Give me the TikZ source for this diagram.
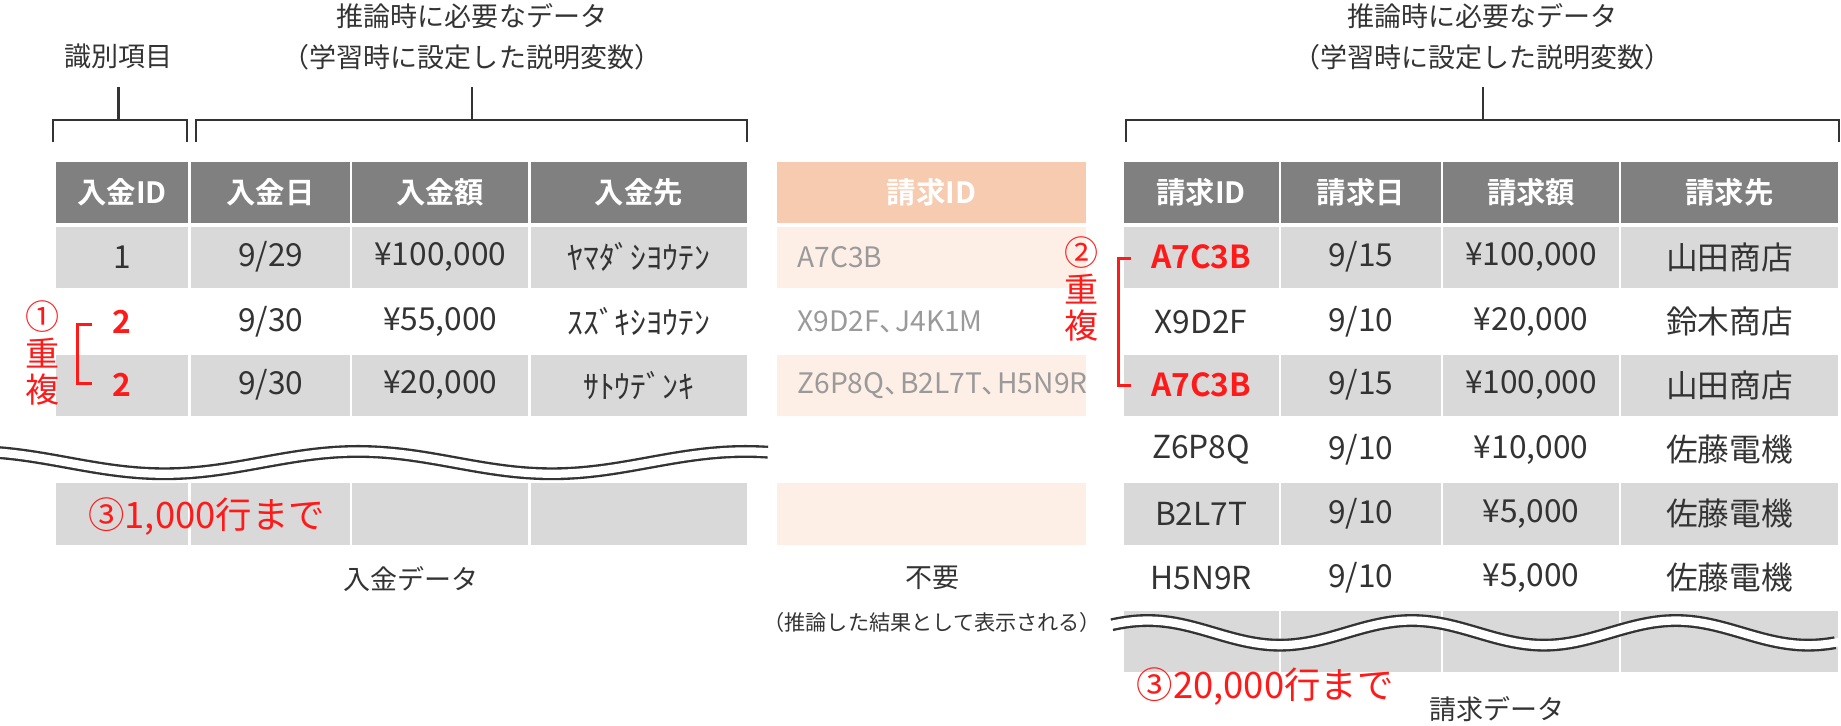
\documentclass[tikz,border=0pt]{standalone}
\usepackage{fontspec}
\setmainfont{Noto Sans CJK JP}
\newfontfamily\jpb{Noto Sans CJK JP Bold}
\definecolor{hdr}{HTML}{808080}
\definecolor{cg}{HTML}{D9D9D9}
\definecolor{ph}{HTML}{F7CBB0}
\definecolor{pc}{HTML}{FDEEE6}
\definecolor{tx}{HTML}{333333}
\definecolor{gt}{HTML}{9A9A9A}
\definecolor{rd}{HTML}{FF1A1A}
\newcommand\cel[7]{\node[#1, minimum width=#5pt, minimum height=#6pt, anchor=north west] (#2) at (#3,#4) {#7};}
\newcommand\tc{、\kern-0.45em}
\tikzset{
 base/.style={inner sep=0pt, outer sep=0pt, text=tx, font=\fontsize{27}{30}\selectfont},
 hd/.style={base, fill=hdr, text=white, font=\jpb\fontsize{25}{28}\selectfont},
 gr/.style={base, fill=cg},
 wh/.style={base},
 phd/.style={base, fill=ph, text=white, font=\jpb\fontsize{25}{28}\selectfont},
 pcl/.style={base, fill=pc},
 mid/.style={inner sep=0pt, text=gt, anchor=west, font=\fontsize{24}{28}\selectfont},
 lab/.style={inner sep=0pt, text=tx, font=\fontsize{23}{26}\selectfont},
 red/.style={inner sep=0pt, text=rd, font=\fontsize{31}{34}\selectfont},
 rid/.style={text=rd, font=\jpb\fontsize{27}{30}\selectfont},
 brk/.style={draw=tx, line width=2pt},
 rbrk/.style={draw=rd, line width=2.5pt},
 wob/.style={line width=11pt, draw=tx},
 wow/.style={line width=7pt, draw=white},
}
\begin{document}
\begin{tikzpicture}[x=1pt,y=-1pt]
\useasboundingbox[fill=white] (0,0) rectangle (1568,618);
% ---------- left table
\cel{hd}{lh1}{48}{138}{112}{52}{入金ID}
\cel{hd}{lh2}{163}{138}{135}{52}{入金日}
\cel{hd}{lh3}{300}{138}{150}{52}{入金額}
\cel{hd}{lh4}{452}{138}{184}{52}{入金先}
\cel{gr}{la1}{48}{193}{112}{52}{1}
\cel{gr}{la2}{163}{193}{135}{52}{9/29}
\cel{gr}{la3}{300}{193}{150}{52}{¥100,000}
\cel{gr}{la4}{452}{193}{184}{52}{ﾔﾏﾀﾞｼﾖｳﾃﾝ}
\cel{wh,rid}{lb1}{48}{248}{112}{52}{2}
\cel{wh}{lb2}{163}{248}{135}{52}{9/30}
\cel{wh}{lb3}{300}{248}{150}{52}{¥55,000}
\cel{wh}{lb4}{452}{248}{184}{52}{ｽｽﾞｷｼﾖｳﾃﾝ}
\cel{gr,rid}{lc1}{48}{302}{112}{52}{2}
\cel{gr}{lc2}{163}{302}{135}{52}{9/30}
\cel{gr}{lc3}{300}{302}{150}{52}{¥20,000}
\cel{gr}{lc4}{452}{302}{184}{52}{ｻﾄｳﾃﾞﾝｷ}
\cel{gr}{ld1}{48}{411}{112}{53}{}
\cel{gr}{ld2}{163}{411}{135}{53}{}
\cel{gr}{ld3}{300}{411}{150}{53}{}
\cel{gr}{ld4}{452}{411}{184}{53}{}
\draw[wob] plot[domain=-2:654, samples=120, smooth] (\x, {394+9.5*cos(1.0909*(\x-140))});
\draw[wow] plot[domain=-6:658, samples=120, smooth] (\x, {394+9.5*cos(1.0909*(\x-140))});
\node[red, anchor=west] (l3) at (75,440) {③1,000行まで};
\node[lab] (lname) at (350,493) {入金データ};
% left annotation
\node[red, font=\fontsize{29}{32}\selectfont] (c1) at (36,270) {①};
\node[red, font=\fontsize{29}{32}\selectfont] (c1a) at (36,301) {重};
\node[red, font=\fontsize{29}{32}\selectfont] (c1b) at (36,332) {複};
\draw[rbrk] (78,276) -- (66,276) -- (66,327) -- (78,327);
% left brackets
\node[lab] (t1) at (101,48) {識別項目};
\coordinate (s1) at (101,74);
\draw[brk] (45,121) -- (45,102) -- (159,102) -- (159,121);
\draw[brk] (s1) -- (101,102);
\node[lab] (t2a) at (402,14) {推論時に必要なデータ};
\node[lab] (t2b) at (402,49) {（学習時に設定した説明変数）};
\coordinate (s2) at (402,74);
\draw[brk] (167,121) -- (167,102) -- (636,102) -- (636,121);
\draw[brk] (s2) -- (402,102);
% ---------- middle
\cel{phd}{mh}{662}{138}{263}{52}{請求ID}
\cel{pcl}{m1}{662}{193}{263}{52}{}
\cel{pcl}{m3}{662}{302}{263}{52}{}
\cel{pcl}{m5}{662}{411}{263}{53}{}
\node[mid] (mt1) at (679,219) {A7C3B};
\node[mid] (mt2) at (679,274) {X9D2F\tc J4K1M};
\node[mid] (mt3) at (679,328) {Z6P8Q\tc B2L7T\tc H5N9R};
\node[lab] (mname) at (794,492) {不要};
\node[lab, font=\fontsize{18}{20}\selectfont] (mnote) at (794,530) {（推論した結果として表示される）};
% ---------- right table
\cel{hd}{rh1}{957}{138}{132}{52}{請求ID}
\cel{hd}{rh2}{1091}{138}{136}{52}{請求日}
\cel{hd}{rh3}{1229}{138}{150}{52}{請求額}
\cel{hd}{rh4}{1381}{138}{184}{52}{請求先}
\cel{gr,rid}{ra1}{957}{193}{132}{52}{A7C3B}
\cel{gr}{ra2}{1091}{193}{136}{52}{9/15}
\cel{gr}{ra3}{1229}{193}{150}{52}{¥100,000}
\cel{gr}{ra4}{1381}{193}{184}{52}{山田商店}
\cel{wh}{rb1}{957}{248}{132}{52}{X9D2F}
\cel{wh}{rb2}{1091}{248}{136}{52}{9/10}
\cel{wh}{rb3}{1229}{248}{150}{52}{¥20,000}
\cel{wh}{rb4}{1381}{248}{184}{52}{鈴木商店}
\cel{gr,rid}{rc1}{957}{302}{132}{52}{A7C3B}
\cel{gr}{rc2}{1091}{302}{136}{52}{9/15}
\cel{gr}{rc3}{1229}{302}{150}{52}{¥100,000}
\cel{gr}{rc4}{1381}{302}{184}{52}{山田商店}
\cel{wh}{rd1}{957}{357}{132}{52}{Z6P8Q}
\cel{wh}{rd2}{1091}{357}{136}{52}{9/10}
\cel{wh}{rd3}{1229}{357}{150}{52}{¥10,000}
\cel{wh}{rd4}{1381}{357}{184}{52}{佐藤電機}
\cel{gr}{re1}{957}{411}{132}{53}{B2L7T}
\cel{gr}{re2}{1091}{411}{136}{53}{9/10}
\cel{gr}{re3}{1229}{411}{150}{53}{¥5,000}
\cel{gr}{re4}{1381}{411}{184}{53}{佐藤電機}
\cel{wh}{rf1}{957}{466}{132}{52}{H5N9R}
\cel{wh}{rf2}{1091}{466}{136}{52}{9/10}
\cel{wh}{rf3}{1229}{466}{150}{52}{¥5,000}
\cel{wh}{rf4}{1381}{466}{184}{52}{佐藤電機}
\cel{gr}{rg1}{957}{520}{132}{52}{}
\cel{gr}{rg2}{1091}{520}{136}{52}{}
\cel{gr}{rg3}{1229}{520}{150}{52}{}
\cel{gr}{rg4}{1381}{520}{184}{52}{}
\draw[wob] plot[domain=947:1563, samples=120, smooth] (\x, {539+10.5*cos(1.6*(\x-1090))});
\draw[wow] plot[domain=943:1567, samples=120, smooth] (\x, {539+10.5*cos(1.6*(\x-1090))});
\node[red, anchor=west] (r3) at (968,585) {③20,000行まで};
\node[lab] (rname) at (1275,604) {請求データ};
% right annotation
\node[red, font=\fontsize{29}{32}\selectfont] (c2) at (921,215) {②};
\node[red, font=\fontsize{29}{32}\selectfont] (c2a) at (921,246) {重};
\node[red, font=\fontsize{29}{32}\selectfont] (c2b) at (921,277) {複};
\draw[rbrk] (963,220) -- (953,220) -- (953,328) -- (963,328);
% right bracket
\node[lab] (t3a) at (1263,14) {推論時に必要なデータ};
\node[lab] (t3b) at (1263,49) {（学習時に設定した説明変数）};
\coordinate (s3) at (1263,74);
\draw[brk] (959,121) -- (959,102) -- (1566,102) -- (1566,121);
\draw[brk] (s3) -- (1263,102);
\end{tikzpicture}
\end{document}
